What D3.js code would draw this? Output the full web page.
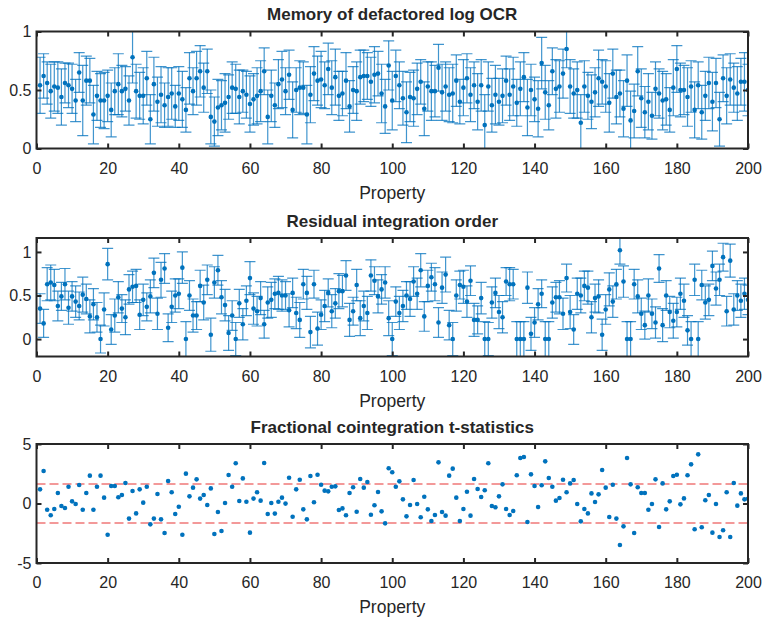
<!DOCTYPE html>
<html>
<head>
<meta charset="utf-8">
<script src="https://cdn.jsdelivr.net/npm/d3@7"></script>
<style>
body { margin: 0; background: #fff; }
svg text { font-family: "Liberation Sans", Arial, sans-serif; fill: #262626; }
</style>
</head>
<body>
<div id="chart"></div>
<script>
// property index 1..200
var property = d3.range(1, 201);
var xTicks = [0, 20, 40, 60, 80, 100, 120, 140, 160, 180, 200];

// memory (d) of defactored log OCR, with error half-widths
var memoryValues = [
  0.54,0.62,0.56,0.49,0.53,0.52,0.44,0.56,0.54,0.51, 0.41,0.65,0.41,0.58,0.58,0.29,0.45,0.41,0.41,0.45,
  0.33,0.49,0.55,0.49,0.51,0.41,0.78,0.49,0.45,0.45, 0.60,0.25,0.55,0.40,0.46,0.37,0.44,0.47,0.36,0.47,
  0.42,0.33,0.60,0.49,0.60,0.66,0.52,0.66,0.27,0.23, 0.35,0.37,0.39,0.44,0.52,0.51,0.44,0.49,0.46,0.38,
  0.42,0.45,0.49,0.66,0.27,0.45,0.37,0.55,0.59,0.49, 0.63,0.33,0.50,0.52,0.52,0.29,0.46,0.64,0.58,0.59,
  0.54,0.68,0.52,0.61,0.45,0.47,0.58,0.36,0.50,0.49, 0.61,0.62,0.62,0.57,0.63,0.64,0.47,0.36,0.71,0.41,
  0.62,0.54,0.43,0.31,0.44,0.43,0.51,0.57,0.34,0.53, 0.49,0.49,0.69,0.48,0.53,0.46,0.47,0.58,0.40,0.52,
  0.60,0.46,0.54,0.40,0.54,0.20,0.53,0.37,0.46,0.40, 0.45,0.58,0.46,0.53,0.39,0.51,0.61,0.35,0.50,0.42,
  0.34,0.73,0.48,0.37,0.66,0.51,0.53,0.64,0.85,0.53, 0.47,0.50,0.22,0.53,0.45,0.40,0.48,0.60,0.57,0.53,
  0.39,0.64,0.44,0.47,0.34,0.58,0.24,0.32,0.66,0.43, 0.31,0.40,0.28,0.51,0.47,0.41,0.42,0.33,0.52,0.68,
  0.50,0.50,0.44,0.53,0.33,0.54,0.31,0.45,0.56,0.40, 0.56,0.25,0.60,0.45,0.59,0.52,0.47,0.57,0.57,0.50
];
var memoryErrors = [
  0.24,0.19,0.18,0.23,0.21,0.22,0.24,0.17,0.19,0.21, 0.18,0.17,0.30,0.21,0.19,0.25,0.21,0.23,0.24,0.22,
  0.23,0.20,0.26,0.22,0.19,0.21,0.22,0.23,0.20,0.24, 0.23,0.21,0.23,0.21,0.24,0.19,0.25,0.22,0.18,0.23,
  0.24,0.19,0.22,0.20,0.23,0.22,0.21,0.19,0.23,0.21, 0.24,0.21,0.25,0.19,0.22,0.21,0.23,0.18,0.20,0.24,
  0.22,0.24,0.26,0.20,0.23,0.22,0.19,0.21,0.24,0.20, 0.21,0.24,0.19,0.23,0.22,0.25,0.24,0.23,0.21,0.24,
  0.20,0.22,0.23,0.24,0.21,0.19,0.24,0.22,0.20,0.25, 0.23,0.22,0.20,0.21,0.24,0.19,0.25,0.23,0.21,0.25,
  0.22,0.20,0.23,0.26,0.21,0.24,0.22,0.19,0.23,0.21, 0.25,0.22,0.20,0.24,0.21,0.23,0.25,0.22,0.19,0.24,
  0.21,0.23,0.20,0.24,0.22,0.26,0.21,0.23,0.25,0.20, 0.23,0.21,0.22,0.25,0.20,0.23,0.21,0.24,0.22,0.19,
  0.24,0.22,0.23,0.21,0.20,0.25,0.22,0.21,0.16,0.23, 0.21,0.24,0.24,0.22,0.20,0.23,0.21,0.24,0.19,0.22,
  0.25,0.21,0.23,0.20,0.24,0.22,0.25,0.23,0.21,0.25, 0.22,0.24,0.20,0.23,0.21,0.25,0.22,0.19,0.24,0.20,
  0.23,0.21,0.25,0.22,0.24,0.20,0.23,0.21,0.22,0.25, 0.21,0.23,0.20,0.24,0.22,0.21,0.23,0.20,0.25,0.22
];

// residual integration order, with error half-widths
var residualValues = [
  0.35,0.18,0.63,0.65,0.62,0.38,0.49,0.63,0.36,0.49, 0.43,0.38,0.51,0.46,0.26,0.40,0.25,0.00,0.34,0.86,
  0.11,0.27,0.48,0.35,0.25,0.57,0.60,0.61,0.28,0.45, 0.37,0.49,0.76,0.29,0.68,0.81,0.13,0.37,0.50,0.52,
  0.82,0.00,0.50,0.27,0.27,0.61,0.42,0.68,0.05,0.65, 0.79,0.48,0.39,0.07,0.27,0.00,0.41,0.17,0.44,0.70,
  0.35,0.32,0.47,0.17,0.42,0.45,0.52,0.53,0.50,0.50, 0.33,0.53,0.30,0.22,0.63,0.53,0.08,0.63,0.12,0.28,
  0.38,0.53,0.32,0.41,0.55,0.55,0.73,0.22,0.32,0.62, 0.24,0.38,0.30,0.73,0.67,0.49,0.57,0.65,0.24,0.00,
  0.43,0.30,0.38,0.50,0.46,0.66,0.52,0.79,0.26,0.61, 0.71,0.63,0.19,0.59,0.74,0.16,0.00,0.50,0.62,0.60,
  0.43,0.67,0.22,0.22,0.47,0.00,0.00,0.42,0.53,0.31, 0.25,0.66,0.63,0.63,0.00,0.00,0.00,0.59,0.06,0.19,
  0.40,0.52,0.00,0.00,0.42,0.48,0.48,0.29,0.70,0.31, 0.11,0.52,0.50,0.61,0.59,0.25,0.47,0.49,0.05,0.34,
  0.57,0.43,0.63,1.02,0.66,0.00,0.00,0.63,0.49,0.29, 0.16,0.50,0.29,0.19,0.81,0.16,0.50,0.31,0.21,0.31,
  0.52,0.44,0.10,0.00,0.68,0.00,0.62,0.42,0.45,0.84, 0.58,0.68,0.94,0.32,0.90,0.34,0.50,0.44,0.52,0.45
];
var residualErrors = [
  0.17,0.16,0.19,0.20,0.18,0.17,0.16,0.18,0.19,0.17, 0.18,0.16,0.20,0.17,0.19,0.18,0.17,0.16,0.19,0.18,
  0.17,0.19,0.18,0.16,0.20,0.17,0.18,0.19,0.17,0.18, 0.16,0.19,0.17,0.18,0.20,0.17,0.16,0.18,0.19,0.17,
  0.18,0.20,0.17,0.19,0.16,0.18,0.20,0.17,0.19,0.18, 0.17,0.19,0.18,0.20,0.17,0.19,0.16,0.18,0.17,0.19,
  0.18,0.17,0.19,0.16,0.18,0.20,0.17,0.19,0.18,0.16, 0.19,0.17,0.18,0.20,0.17,0.19,0.18,0.16,0.19,0.17,
  0.18,0.16,0.19,0.17,0.20,0.18,0.17,0.19,0.16,0.18, 0.20,0.17,0.19,0.18,0.16,0.19,0.17,0.18,0.20,0.19,
  0.17,0.19,0.18,0.16,0.20,0.17,0.18,0.19,0.17,0.18, 0.16,0.19,0.17,0.18,0.20,0.17,0.19,0.18,0.16,0.19,
  0.18,0.17,0.19,0.16,0.18,0.20,0.19,0.18,0.17,0.19, 0.18,0.16,0.19,0.17,0.20,0.20,0.20,0.18,0.19,0.17,
  0.18,0.16,0.20,0.20,0.18,0.17,0.19,0.18,0.16,0.19, 0.17,0.18,0.20,0.17,0.19,0.18,0.16,0.19,0.18,0.17,
  0.19,0.18,0.17,0.16,0.18,0.20,0.20,0.17,0.19,0.18, 0.16,0.19,0.17,0.18,0.16,0.19,0.17,0.18,0.20,0.17,
  0.18,0.19,0.17,0.20,0.18,0.20,0.17,0.19,0.18,0.17, 0.19,0.18,0.16,0.17,0.19,0.18,0.17,0.19,0.18,0.17
];

// fractional cointegration t-statistics, with the critical value
var tStatistics = [
  1.19,2.73,-0.52,-0.99,-0.46,0.88,-0.21,-0.38,1.41,0.18, -0.04,1.55,-0.52,0.88,2.34,-0.52,1.41,2.34,0.49,-2.62,
  1.47,1.47,0.52,0.71,1.72,-1.27,1.05,-0.83,1.19,0.07, 1.41,-1.75,-1.27,0.80,-1.33,-2.48,1.89,0.94,-0.88,-0.27,
  -2.62,2.51,0.60,1.33,2.03,0.41,0.71,-0.13,1.27,-2.56, -0.71,-2.31,0.04,2.39,1.41,3.38,0.21,2.11,0.15,-2.45,
  0.41,0.94,0.24,3.40,-0.88,0.04,-0.85,0.15,0.49,-0.01, 2.17,-1.11,1.19,2.00,-0.49,-1.33,2.31,0.10,2.42,1.58,
  1.08,1.02,1.41,1.44,-0.55,-0.41,-0.99,0.88,1.36,-0.69, 2.06,1.33,1.81,-0.94,-0.15,0.97,-0.66,-1.67,2.96,2.62,
  1.41,1.86,0.35,-1.08,-0.13,1.97,-0.04,-1.16,0.57,-0.49, -1.47,-0.97,3.46,-0.71,-1.02,2.34,2.93,0.49,-1.47,-0.46,
  0.99,-1.02,2.06,1.22,0.55,1.11,3.38,-0.21,-0.32,0.60, 1.61,-0.46,-0.97,-0.63,2.37,3.82,3.91,-1.55,2.45,1.47,
  -0.29,1.53,3.54,2.14,1.41,0.24,0.46,2.00,0.94,1.69, 1.97,-0.04,-1.50,-0.46,-0.83,0.85,0.13,0.77,2.82,1.33,
  -1.13,1.58,-1.27,-3.49,-1.92,3.82,1.61,-2.48,1.36,0.88, 0.88,-0.52,-0.04,2.03,-1.97,1.69,-0.49,0.18,2.31,2.42,
  -0.07,0.43,2.37,3.29,-2.17,4.13,-2.00,0.27,0.71,-2.45, -0.04,-2.82,-2.25,0.94,-2.82,1.72,-0.18,0.85,0.35,0.40
];
var criticalValues = [1.645, -1.645];

var blue = '#0072BD';
var width = 766, height = 619;
var left = 36.5, right = 748;

var svg = d3.select('#chart').append('svg')
    .attr('width', width)
    .attr('height', height);

var x = d3.scaleLinear().domain([0, 200]).range([left, right]);

var panels = [
    {title: 'Memory of defactored log OCR', top: 31.5, bottom: 148.5, yDomain: [0, 1],
     yTicks: [0, 0.5, 1], values: memoryValues, errors: memoryErrors},
    {title: 'Residual integration order', top: 238, bottom: 356.5, yDomain: [-0.2, 1.16],
     yTicks: [0, 0.5, 1], values: residualValues, errors: residualErrors},
    {title: 'Fractional cointegration t-statistics', top: 444, bottom: 563, yDomain: [-5, 5],
     yTicks: [-5, 0, 5], values: tStatistics, lines: criticalValues}
];

panels.forEach(function(p, k) { drawPanel(p, k); });

function drawPanel(p, k)
{
    var y = d3.scaleLinear().domain(p.yDomain).range([p.bottom, p.top]);
    var g = svg.append('g');

    // clip marks to the axes box
    svg.append('clipPath').attr('id', 'clip' + k)
        .append('rect')
        .attr('x', left).attr('y', p.top)
        .attr('width', right - left).attr('height', p.bottom - p.top);

    var plot = g.append('g').attr('clip-path', 'url(#clip' + k + ')');

    // dashed critical value lines
    if (p.lines) {
        plot.selectAll('line.crit').data(p.lines).enter().append('line')
            .attr('class', 'crit')
            .attr('x1', left).attr('x2', right)
            .attr('y1', function(d) { return y(d); })
            .attr('y2', function(d) { return y(d); })
            .style('stroke', '#f07878')
            .style('stroke-width', 1.5)
            .style('stroke-dasharray', '9,4');
    }

    // error bars
    if (p.errors) {
        var bars = plot.selectAll('g.bar').data(property).enter().append('g')
            .attr('class', 'bar')
            .style('stroke', blue)
            .style('stroke-width', 1.2)
            .style('stroke-opacity', 0.75);
        bars.append('line')
            .attr('x1', function(d) { return x(d); })
            .attr('x2', function(d) { return x(d); })
            .attr('y1', function(d, i) { return y(p.values[i] - p.errors[i]); })
            .attr('y2', function(d, i) { return y(p.values[i] + p.errors[i]); });
        [-1, 1].forEach(function(s) {
            bars.append('line')
                .attr('x1', function(d) { return x(d) - 5.5; })
                .attr('x2', function(d) { return x(d) + 5.5; })
                .attr('y1', function(d, i) { return y(p.values[i] + s * p.errors[i]); })
                .attr('y2', function(d, i) { return y(p.values[i] + s * p.errors[i]); });
        });
    }

    // points
    plot.selectAll('circle').data(property).enter().append('circle')
        .attr('cx', function(d) { return x(d); })
        .attr('cy', function(d, i) { return y(p.values[i]); })
        .attr('r', 2.3)
        .style('fill', blue);

    // axes, ticks inward on all four sides
    var xAxis = g.append('g')
        .attr('transform', 'translate(0,' + p.bottom + ')')
        .call(d3.axisBottom(x).tickValues(xTicks).tickSize(-5).tickSizeOuter(0).tickPadding(14));
    var xTop = g.append('g')
        .attr('transform', 'translate(0,' + p.top + ')')
        .call(d3.axisTop(x).tickValues(xTicks).tickSize(-5).tickSizeOuter(0).tickFormat(''));
    var yAxis = g.append('g')
        .attr('transform', 'translate(' + left + ',0)')
        .call(d3.axisLeft(y).tickValues(p.yTicks).tickSize(-5).tickSizeOuter(0).tickPadding(5)
            .tickFormat(function(d) { return d3.format('')(d).replace('−', '-'); }));
    var yRight = g.append('g')
        .attr('transform', 'translate(' + right + ',0)')
        .call(d3.axisRight(y).tickValues(p.yTicks).tickSize(-5).tickSizeOuter(0).tickFormat(''));

    [xAxis, xTop, yAxis, yRight].forEach(function(a) {
        a.select('.domain').remove();
        a.selectAll('line').style('stroke', '#262626').style('stroke-width', 2);
        a.selectAll('text').style('font-size', '16px').style('fill', '#262626');
    });

    // box
    g.append('rect')
        .attr('x', left).attr('y', p.top)
        .attr('width', right - left).attr('height', p.bottom - p.top)
        .style('fill', 'none')
        .style('stroke', '#262626')
        .style('stroke-width', 2);

    // title and x label
    g.append('text')
        .attr('x', (left + right) / 2)
        .attr('y', p.top - 11.5)
        .attr('text-anchor', 'middle')
        .style('font-size', '17px')
        .style('font-weight', 'bold')
        .text(p.title);

    g.append('text')
        .attr('x', (left + right) / 2)
        .attr('y', p.bottom + 50)
        .attr('text-anchor', 'middle')
        .style('font-size', '17.5px')
        .text('Property');
}
</script>
</body>
</html>
